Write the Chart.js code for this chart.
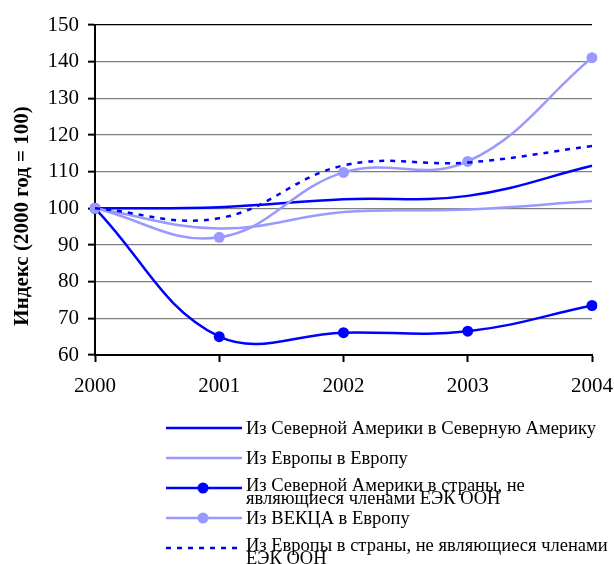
<!DOCTYPE html>
<html>
<head>
<meta charset="utf-8">
<script src="https://cdn.jsdelivr.net/npm/chart.js@4.4.1/dist/chart.umd.min.js"></script>
<style>
html,body{margin:0;padding:0;background:#fff;}
#wrap{width:614px;height:564px;position:relative;}
</style>
</head>
<body>
<div id="wrap"><canvas id="c" width="614" height="564"></canvas></div>
<script>
const years = ['2000', '2001', '2002', '2003', '2004'];
const yTicks = [60, 70, 80, 90, 100, 110, 120, 130, 140, 150];
const seriesNames = [
  ['Из Северной Америки в Северную Америку'],
  ['Из Европы в Европу'],
  ['Из Северной Америки в страны, не', 'являющиеся членами ЕЭК ООН'],
  ['Из ВЕКЦА в Европу'],
  ['Из Европы в страны, не являющиеся членами', 'ЕЭК ООН']
];
const naToNa = [100, 100.3, 102.5, 103.4, 111.6];
const euToEu = [100, 94.5, 99.0, 99.7, 102.0];
const naToNonUnece = [100, 65.0, 66.1, 66.5, 73.5];
const eeccaToEu = [100, 92.1, 109.8, 112.8, 141.1];
const euToNonUnece = [100, 97.3, 111.7, 112.5, 117.0];
const yTitle = 'Индекс (2000 год = 100)';

const DARK = '#0000FF';
const LIGHT = '#9999FF';
const FONT = '"Liberation Serif", "Times New Roman", serif';

const styles = [
  {color: DARK, dash: [], point: 0},
  {color: LIGHT, dash: [], point: 0},
  {color: DARK, dash: [], point: 5.5},
  {color: LIGHT, dash: [], point: 5.5},
  {color: DARK, dash: [5, 6], point: 0}
];
const dataArr = [naToNa, euToEu, naToNonUnece, eeccaToEu, euToNonUnece];

const datasets = dataArr.map((d, i) => ({
  label: seriesNames[i].join(' '),
  data: d,
  borderColor: styles[i].color,
  backgroundColor: styles[i].color,
  borderWidth: 2.5,
  borderDash: styles[i].dash,
  pointRadius: styles[i].point,
  pointBorderWidth: 0,
  pointHoverRadius: styles[i].point,
  tension: 0.4,
  fill: false,
  order: 5 - i
}));

const legendPlugin = {
  id: 'customLegend',
  afterDraw(chart) {
    const ctx = chart.ctx;
    ctx.save();
    // y axis title
    ctx.save();
    ctx.translate(23, 216);
    ctx.rotate(-Math.PI / 2);
    ctx.font = 'bold 21px ' + FONT;
    ctx.fillStyle = '#000';
    ctx.textAlign = 'center';
    ctx.textBaseline = 'middle';
    ctx.fillText(yTitle, 0, 0);
    ctx.restore();

    const rows = [428, 458, 488, 518, 548];
    const x0 = 166, x1 = 242, tx = 246;
    rows.forEach((y, i) => {
      const st = styles[i];
      ctx.beginPath();
      ctx.strokeStyle = st.color;
      ctx.lineWidth = 2.5;
      ctx.setLineDash(st.dash);
      ctx.moveTo(x0, y);
      ctx.lineTo(x1, y);
      ctx.stroke();
      ctx.setLineDash([]);
      if (st.point) {
        ctx.beginPath();
        ctx.fillStyle = st.color;
        ctx.arc((x0 + x1) / 2 - 1, y, st.point, 0, Math.PI * 2);
        ctx.fill();
      }
      ctx.fillStyle = '#000';
      ctx.font = '18.5px ' + FONT;
      ctx.textAlign = 'left';
      ctx.textBaseline = 'middle';
      const lines = seriesNames[i];
      if (lines.length === 1) {
        ctx.fillText(lines[0], tx, y + 1);
      } else {
        ctx.fillText(lines[0], tx, y - 2);
        ctx.fillText(lines[1], tx, y + 11);
      }
    });
    ctx.restore();
  }
};

new Chart(document.getElementById('c'), {
  type: 'line',
  data: {labels: years, datasets},
  options: {
    responsive: false,
    animation: false,
    events: [],
    layout: {padding: {top: 25, right: 0, bottom: 0, left: 0}},
    plugins: {legend: {display: false}, tooltip: {enabled: false}},
    scales: {
      x: {
        type: 'category',
        offset: false,
        afterFit: s => { s.height = 209; s.paddingRight = 22; s.paddingLeft = 0; },
        grid: {drawOnChartArea: false, drawTicks: true, tickLength: 7, tickColor: '#000', tickWidth: 2},
        border: {color: '#000', width: 2},
        ticks: {color: '#000', font: {family: FONT, size: 21}, padding: 12, maxRotation: 0}
      },
      y: {
        min: 60, max: 150,
        afterFit: s => { s.width = 95; },
        afterBuildTicks: s => { s.ticks = yTicks.map(v => ({value: v})); },
        grid: {
          color: ctx => (ctx.tick && ctx.tick.value === 150) ? '#000' : '#7f7f7f',
          lineWidth: 1.3,
          drawTicks: true, tickLength: 7, tickColor: '#000', tickWidth: 2
        },
        border: {color: '#000', width: 2},
        ticks: {color: '#000', font: {family: FONT, size: 21}, padding: 9}
      }
    }
  },
  plugins: [legendPlugin]
});
</script>
</body>
</html>
